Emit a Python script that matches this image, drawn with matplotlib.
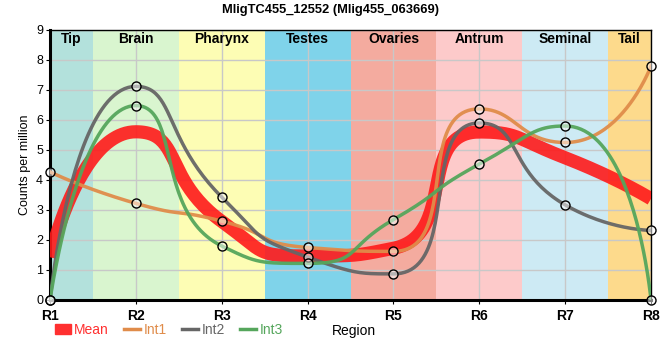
import matplotlib
matplotlib.use('Agg')
import matplotlib.pyplot as plt
from matplotlib.patches import Patch
from matplotlib.lines import Line2D
import numpy as np

plt.rcParams['font.family'] = ['Liberation Sans', 'DejaVu Sans']

# data
regions = ['R1', 'R2', 'R3', 'R4', 'R5', 'R6', 'R7', 'R8']
int1 = [4.27, 3.22, 2.63, 1.75, 1.62, 6.37, 5.25, 7.80]
int2 = [0.00, 7.12, 3.43, 1.43, 0.87, 5.90, 3.17, 2.32]
int3 = [0.00, 6.48, 1.80, 1.22, 2.68, 4.53, 5.80, 0.00]
tissues = ['Tip', 'Brain', 'Pharynx', 'Testes', 'Ovaries', 'Antrum', 'Seminal', 'Tail']
tissue_spans = [(0, 0.5), (0.5, 1.5), (1.5, 2.5), (2.5, 3.5), (3.5, 4.5),
                (4.5, 5.5), (5.5, 6.5), (6.5, 7)]
tissue_colors = ['#b3e1dc', '#d9f5cf', '#fdfdb4', '#7fd3ea', '#f4ab9f',
                 '#fdcaca', '#cdeaf4', '#fdda8c']

mean = list(np.mean([int1, int2, int3], axis=0))

# pixels per data unit, so the smoothing works like it does on screen
SX = 601 / 7.0
SY = 270 / 9.0


def spline(y, s=0.6, n=50):
    # bezier smoothing, control points kept inside the box of neighbours
    P = [np.array([i * SX, v * SY]) for i, v in enumerate(y)]
    k = len(P)
    cp0 = P[0].copy()
    t = np.linspace(0, 1, n)[:, None]
    out = []
    for i in range(1, k):
        p, prev = P[i], P[i-1]
        if i == k - 1:
            cp1 = p.copy()
            nxt_cp0 = None
        else:
            nxt = P[i+1]
            v = nxt - prev
            l0 = np.hypot(*(p - prev))
            l1 = np.hypot(*(nxt - p))
            r = l1 / (l0 + l1)
            nc = p + v * s * r
            nc = np.minimum(nc, np.maximum(nxt, p))
            nc = np.maximum(nc, np.minimum(nxt, p))
            cp1 = p - (nc - p) * l0 / l1
            cp1 = np.minimum(cp1, np.maximum(prev, p))
            cp1 = np.maximum(cp1, np.minimum(prev, p))
            nxt_cp0 = p + (p - cp1) * l1 / l0
        out.append((1-t)**3*prev + 3*(1-t)**2*t*cp0 + 3*(1-t)*t**2*cp1 + t**3*p)
        cp0 = nxt_cp0
    out = np.vstack(out)
    return out[:, 0] / SX, out[:, 1] / SY


fig = plt.figure(figsize=(6.6, 3.6), dpi=100)
ax = fig.add_axes([0.0758, 0.1667, 0.9106, 0.75])

for (a, b), c, name in zip(tissue_spans, tissue_colors, tissues):
    ax.axvspan(a, b, color=c, lw=0, zorder=0)
    ax.text((a + b) / 2, 8.7, name, ha='center', va='center',
            fontsize=10, fontweight='bold', zorder=5)

ax.grid(True, color='#c8c8c8', lw=1, zorder=1)
ax.set_axisbelow(True)

xm, ym = spline(mean)
ax.plot(xm, ym, color='#ff1a1a', lw=9.5, alpha=0.9, solid_capstyle='butt', zorder=3)

colors = ['#e08c4a', '#666666', '#55a65c']
for vals, c in zip([int1, int2, int3], colors):
    xs, ys = spline(vals)
    ax.plot(xs, ys, color=c, lw=2.5, alpha=0.95, zorder=4)
    ax.plot(range(len(vals)), vals, 'o', ms=6.5, mfc=(1, 1, 1, 0.5), mec='black',
            mew=1, zorder=6, clip_on=False)

ax.set_xlim(0, 7)
ax.set_ylim(0, 9)
ax.set_xticks(range(len(regions)))
ax.set_xticklabels(regions, fontweight='bold', fontsize=10)
ax.set_yticks(range(10))
ax.tick_params(axis='y', labelsize=9, length=3, pad=2)
ax.tick_params(axis='x', length=3)
ax.set_ylabel('Counts per million', fontsize=9, labelpad=4)
for s in ['left', 'bottom']:
    ax.spines[s].set_linewidth(2.2)
for s in ['right', 'top']:
    ax.spines[s].set_linewidth(1)

handles = [Patch(color='#ff3030'),
           Line2D([], [], color=colors[0], lw=2.5),
           Line2D([], [], color=colors[1], lw=2.5),
           Line2D([], [], color=colors[2], lw=2.5)]
labels = ['Mean', 'Int1', 'Int2', 'Int3']
leg = fig.legend(handles, labels, loc='center left', bbox_to_anchor=(0.083, 0.083),
                 ncol=4, frameon=False, fontsize=10, handlelength=1.15,
                 handletextpad=0.25, columnspacing=1.1, borderaxespad=0,
                 borderpad=0)
for t, c in zip(leg.get_texts(), ['#ff3030'] + colors):
    t.set_color(c)
fig.text(0.503, 0.08, 'Region', fontsize=10, va='center')

fig.suptitle('MligTC455_12552 (Mlig455_063669)', fontsize=9.3,
             fontweight='bold', y=0.99)

fig.savefig('out.png', dpi=100)
